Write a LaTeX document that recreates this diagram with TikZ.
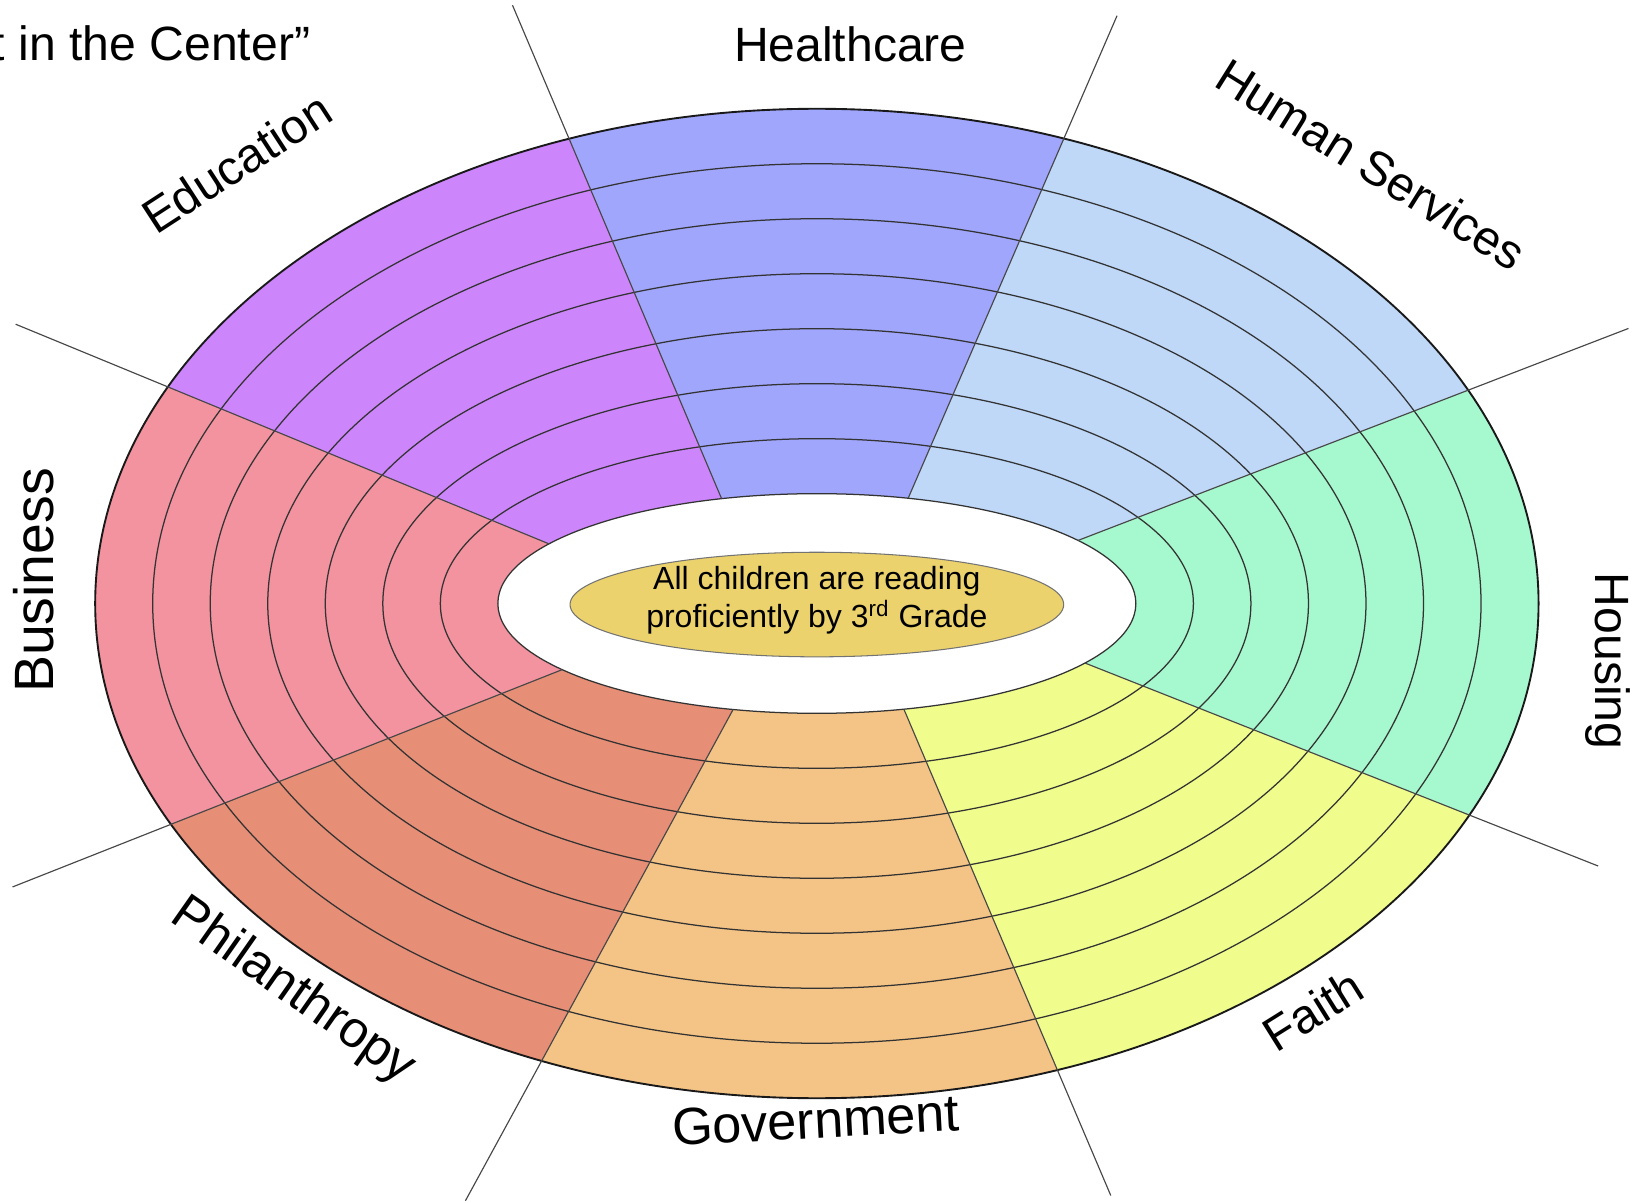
\documentclass[tikz,border=0pt]{standalone}
\usepackage{fontspec}
\setmainfont{Liberation Sans}
\usetikzlibrary{calc,intersections}
\definecolor{cEdu}{HTML}{CD85FB}
\definecolor{cHealth}{HTML}{A0A6FC}
\definecolor{cHuman}{HTML}{BFD8F8}
\definecolor{cHousing}{HTML}{A6F8CE}
\definecolor{cFaith}{HTML}{F0FD8C}
\definecolor{cGov}{HTML}{F4C486}
\definecolor{cPhil}{HTML}{E78E76}
\definecolor{cBus}{HTML}{F2939F}
\definecolor{cGold}{HTML}{ECD26C}
\begin{document}
\begin{tikzpicture}[x=0.5pt,y=-0.5pt,
  ringline/.style={draw=black!80, line width=0.6pt},
  spokeline/.style={draw=black!72, line width=0.55pt},
  lbl/.style={font=\fontsize{23}{27}\selectfont, inner sep=0pt, text=black},
  biglbl/.style={lbl, font=\fontsize{25}{30}\selectfont}]
\useasboundingbox (0,0) rectangle (1568,1150);
\coordinate (C) at (781,577);
\path[name path=inner] (C) ellipse [x radius=305, y radius=105];
\foreach \i/\fx/\fy/\ix/\iy in {1/490/5/690/477, 2/1068/15/868/477, 3/1557/314/1030/517, 4/1528/828/1040/635, 5/1062/1143/865/680, 6/445/1148/700/680, 7/12/848/533/642, 8/15/310/525/520}{
  \coordinate (F\i) at (\fx,\fy);
  \coordinate (I\i) at (\ix,\iy);
  \path[name path=sp] (F\i) -- ($(F\i)!1.35!(I\i)$);
  \path[name intersections={of=sp and inner, sort by=sp, by={X\i}}];
}
% sector fills
\begin{scope}
\clip (C) ellipse [x radius=690, y radius=473];
\fill[cHealth]  (F1) -- (X1) -- (C) -- (X2) -- (F2) -- cycle;
\fill[cHuman]   (F2) -- (X2) -- (C) -- (X3) -- (F3) -- cycle;
\fill[cHousing] (F3) -- (X3) -- (C) -- (X4) -- (F4) -- cycle;
\fill[cFaith]   (F4) -- (X4) -- (C) -- (X5) -- (F5) -- cycle;
\fill[cGov]     (F5) -- (X5) -- (C) -- (X6) -- (F6) -- cycle;
\fill[cPhil]    (F6) -- (X6) -- (C) -- (X7) -- (F7) -- cycle;
\fill[cBus]     (F7) -- (X7) -- (C) -- (X8) -- (F8) -- cycle;
\fill[cEdu]     (F8) -- (X8) -- (C) -- (X1) -- (F1) -- cycle;
\end{scope}
\fill[white] (C) ellipse [x radius=305, y radius=105];
% rings
\foreach \k in {1,...,7}{
  \draw[ringline] (C) ellipse [x radius={690-55*\k}, y radius={473-52.57*\k}];
}
\draw[line width=0.9pt, draw=black!90] (C) ellipse [x radius=690, y radius=473];
% spokes
\foreach \i in {1,...,8}{
  \draw[spokeline] (F\i) -- (X\i);
}
% centre goal
\draw[fill=cGold, draw=black!55, line width=0.5pt] (781,578) ellipse [x radius=236, y radius=50];
\node[align=center, font=\fontsize{15.3}{18}\selectfont, inner sep=0pt] (goal) at (781,574)
  {All children are reading\\proficiently by 3\textsuperscript{rd} Grade};
% labels
\node[lbl, anchor=base east] (title) at (297,58) {t in the Center”};
\node[lbl] (hc) at (813,42) {Healthcare};
\node[lbl, rotate=33] (ed) at (226,156) {Education};
\node[lbl, rotate=-32] (hs) at (1311,157) {Human Services};
\node[lbl, font=\fontsize{26.5}{30}\selectfont, rotate=90] (bu) at (32,555) {Business};
\node[lbl, rotate=-90] (ho) at (1537,632) {Housing};
\node[lbl, font=\fontsize{24.5}{30}\selectfont, rotate=-35] (ph) at (280,948) {Philanthropy};
\node[biglbl, rotate=3] (go) at (780,1071) {Government};
\node[lbl, rotate=32] (fa) at (1255,966) {Faith};
\end{tikzpicture}
\end{document}
